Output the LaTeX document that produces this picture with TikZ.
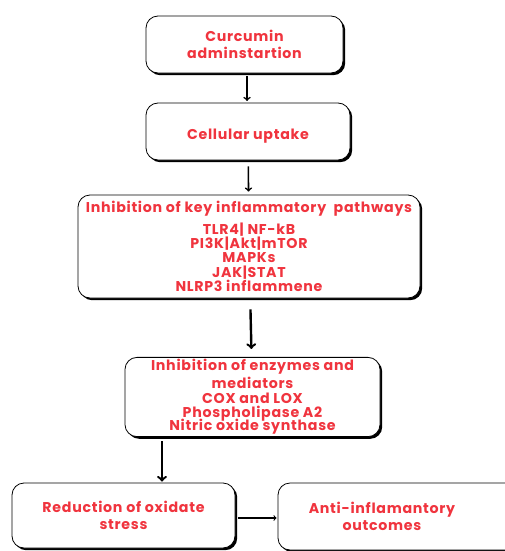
\documentclass[tikz,border=0pt]{standalone}
\usepackage{fontspec}
\setmainfont{Poppins}[BoldFont={Poppins Bold}]
\usetikzlibrary{shadows}
\definecolor{boxred}{RGB}{240,52,62}
\begin{document}
\begin{tikzpicture}[x=1pt, y=-1pt,
        main node/.style={draw, rounded corners=12pt, line width=0.8pt, fill=white, align=center,
            text=boxred, font=\bfseries\fontsize{14.2}{14.4}\selectfont\addfontfeatures{LetterSpace=5}, inner sep=2pt,
            drop shadow={shadow xshift=2.2pt, shadow yshift=-2.2pt, fill=black, opacity=1}},
        flow/.style={->, line width=1.6pt, shorten >=1pt}]
    \clip (0,0) rectangle (505,551);
    \fill[white] (0,0) rectangle (505,551);
    \node[main node, minimum width=197pt, minimum height=57pt] (curcumin) at (244.5,44.5) {Curcumin\\[3pt]adminstartion};
    \node[main node, minimum width=204pt, minimum height=57pt] (uptake) at (248,131.5) {\raisebox{-8pt}[0pt][0pt]{Cellular uptake}};
    \node[main node, minimum width=342pt, minimum height=103pt] (pathways) at (249,246.5)
        {Inhibition of key inflammatory\ \ pathways\\[5pt] TLR4| NF-kB\\ PI3K|Akt|mTOR\\ MAPKs\\ JAK|STAT\\ NLRP3 inflammene};
    \node[main node, minimum width=255pt, minimum height=76pt] (enzymes) at (252.5,397)
        {Inhibition of enzymes and\\[2pt] mediators\\ COX and LOX\\ Phospholipase A2\\[-3pt] Nitric oxide synthase};
    \node[main node, minimum width=223pt, minimum height=65pt] (oxidative) at (123.5,515.5) {Reduction of oxidate\\[2pt] stress};
    \node[main node, minimum width=270pt, minimum height=67pt] (outcomes) at (413,516.5) {\hspace*{-62pt}Anti-inflamantory\\[2pt]\hspace*{-62pt}outcomes};
    \coordinate (c4) at (162,0);
    \draw[flow] (curcumin.south -| 247,0) ++(0,3) -- (247,102);
    \draw[flow, shorten <=6pt, shorten >=3pt] (uptake) -- (pathways);
    \draw[flow, line width=2.4pt, shorten <=11pt, shorten >=8pt] (pathways) -- (enzymes);
    \draw[flow, line width=2.4pt] (enzymes.south -| c4) ++(0,4) -- (oxidative.north -| c4);
    \draw[flow, line width=1.1pt, shorten <=3pt] (oxidative.east |- 0,518) -- (outcomes.west |- 0,518);
\end{tikzpicture}
\end{document}
